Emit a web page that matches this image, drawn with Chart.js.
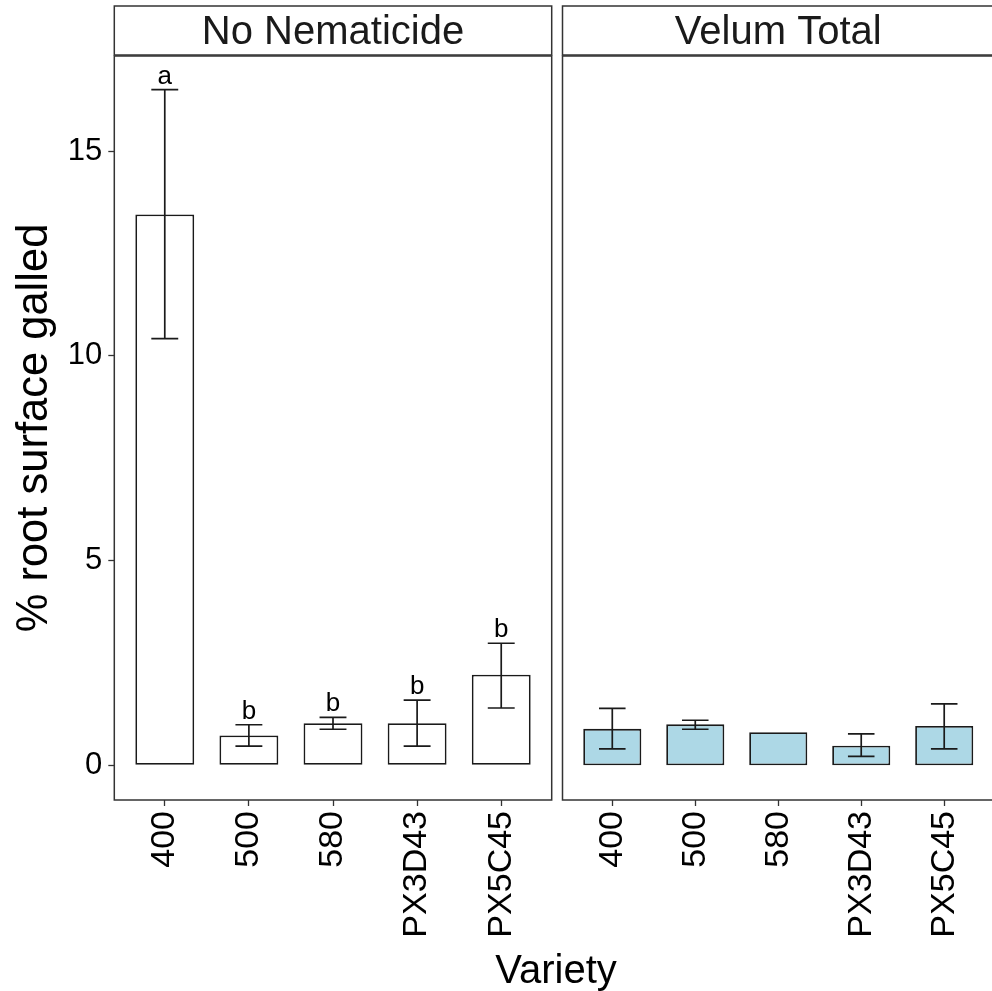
<!DOCTYPE html>
<html>
<head>
<meta charset="utf-8">
<script src="https://cdn.jsdelivr.net/npm/chart.js@4"></script>
<style>
  html, body { margin:0; padding:0; background:#fff; width:992px; height:991px; overflow:hidden; }
  #left { position:absolute; left:0; top:0; width:556px; height:991px; }
  #right { position:absolute; left:556px; top:0; width:448px; height:991px; }
  #xtitle { position:absolute; left:456px; width:200px; top:949px; text-align:center;
            font-family:"Liberation Sans", Arial, sans-serif; font-size:40px; line-height:40px; color:#000; }
</style>
</head>
<body>
<div id="left"><canvas id="c1"></canvas></div>
<div id="right"><canvas id="c2"></canvas></div>
<div id="xtitle">Variety</div>
<script>
// ---- data ----
const varieties = ["400", "500", "580", "PX3D43", "PX5C45"];
const facets = ["No Nematicide", "Velum Total"];
const yTicks = [0, 5, 10, 15];

const noNemMean  = [13.45, 0.73, 1.03, 1.03, 2.21];
const noNemUpper = [16.50, 0.99, 1.17, 1.59, 2.98];
const noNemLower = [10.42, 0.47, 0.88, 0.47, 1.40];
const noNemLetters = ["a", "b", "b", "b", "b"];

const velumMean  = [0.89, 1.00, 0.81, 0.48, 0.96];
const velumUpper = [1.39, 1.10, null, 0.77, 1.50];
const velumLower = [0.40, 0.88, null, 0.22, 0.40];
const velumLetters = [null, null, null, null, null];

const FONT = '"Liberation Sans", Arial, sans-serif';
const Y_MIN = -0.847, Y_MAX = 17.32;

const facetPlugin = {
  id: 'facet',
  afterDatasetsDraw(chart, args, opts) {
    const ctx = chart.ctx, a = chart.chartArea;
    const x = chart.scales.x, y = chart.scales.y;
    ctx.save();
    // error bars
    ctx.strokeStyle = '#1a1a1a';
    ctx.lineWidth = 1.7;
    const capHalf = Math.abs(x.getPixelForValue(1.16) - x.getPixelForValue(1));
    opts.upper.forEach((u, i) => {
      if (u == null) return;
      const px = x.getPixelForValue(i + 1);
      const yt = y.getPixelForValue(u), yb = y.getPixelForValue(opts.lower[i]);
      ctx.beginPath();
      ctx.moveTo(px, yt); ctx.lineTo(px, yb);
      ctx.moveTo(px - capHalf, yt); ctx.lineTo(px + capHalf, yt);
      ctx.moveTo(px - capHalf, yb); ctx.lineTo(px + capHalf, yb);
      ctx.stroke();
    });
    // letters
    ctx.fillStyle = '#000';
    ctx.font = '26px ' + FONT;
    ctx.textAlign = 'center';
    ctx.textBaseline = 'alphabetic';
    opts.letters.forEach((l, i) => {
      if (!l) return;
      const top = opts.upper[i] != null ? opts.upper[i] : opts.mean[i];
      ctx.fillText(l, x.getPixelForValue(i + 1), y.getPixelForValue(top) - 6);
    });
    // panel border
    ctx.strokeStyle = '#333';
    ctx.lineWidth = 1.5;
    ctx.strokeRect(a.left, a.top, a.right - a.left, a.bottom - a.top);
    // strip
    ctx.fillStyle = '#fff';
    ctx.fillRect(a.left, 6, a.right - a.left, 49);
    ctx.strokeRect(a.left, 6, a.right - a.left, 49);
    ctx.fillStyle = '#1a1a1a';
    ctx.font = '40px ' + FONT;
    ctx.fillText(opts.strip, (a.left + a.right) / 2, 43.5);
    ctx.restore();
  }
};

function makeChart(id, facet, mean, upper, lower, letters, fill, isLeft) {
  const pts = mean.map((v, i) => ({ x: i + 1, y: v }));
  return new Chart(document.getElementById(id), {
    type: 'bar',
    data: {
      datasets: [{
        data: pts,
        backgroundColor: fill,
        borderColor: '#1a1a1a',
        borderWidth: 1.8,
        borderSkipped: false,
        barPercentage: 0.7,
        categoryPercentage: 1.0
      }]
    },
    options: {
      responsive: true,
      maintainAspectRatio: false,
      animation: false,
      devicePixelRatio: 1,
      layout: { padding: isLeft ? { top: 56, right: 4.3, left: 0, bottom: 0 } : { top: 56, left: 6.5, right: 10, bottom: 0 } },
      plugins: {
        legend: { display: false },
        tooltip: { enabled: false },
        facet: { strip: facet, mean, upper, lower, letters }
      },
      scales: {
        x: {
          type: 'linear',
          min: 0.4, max: 5.6,
          offset: false,
          afterBuildTicks: s => { s.ticks = varieties.map((v, i) => ({ value: i + 1 })); },
          afterFit: s => { s.height = 191; },
          ticks: {
            autoSkip: false,
            maxRotation: 90, minRotation: 90,
            padding: 5,
            color: '#000',
            font: { family: FONT, size: 34 },
            callback: (v) => varieties[Math.round(v) - 1]
          },
          grid: { display: true, drawOnChartArea: false, offset: false, tickLength: 6, color: '#333', tickWidth: 1.3 },
          border: { display: false }
        },
        y: {
          display: isLeft,
          min: Y_MIN, max: Y_MAX,
          afterBuildTicks: s => { s.ticks = yTicks.map(v => ({ value: v })); },
          afterFit: s => { if (isLeft) s.width = 114.3; },
          ticks: {
            padding: 6,
            color: '#000',
            font: { family: FONT, size: 31 },
            callback: v => String(v)
          },
          grid: { display: true, drawOnChartArea: false, tickLength: 6, color: '#333', tickWidth: 1.3 },
          border: { display: false },
          title: {
            display: isLeft,
            text: '% root surface galled',
            color: '#000',
            font: { family: FONT, size: 43.5 },
            padding: { top: 9, bottom: 0 }
          }
        }
      }
    },
    plugins: [facetPlugin]
  });
}

makeChart('c1', facets[0], noNemMean, noNemUpper, noNemLower, noNemLetters, '#ffffff', true);
makeChart('c2', facets[1], velumMean, velumUpper, velumLower, velumLetters, '#add8e6', false);
</script>
</body>
</html>
